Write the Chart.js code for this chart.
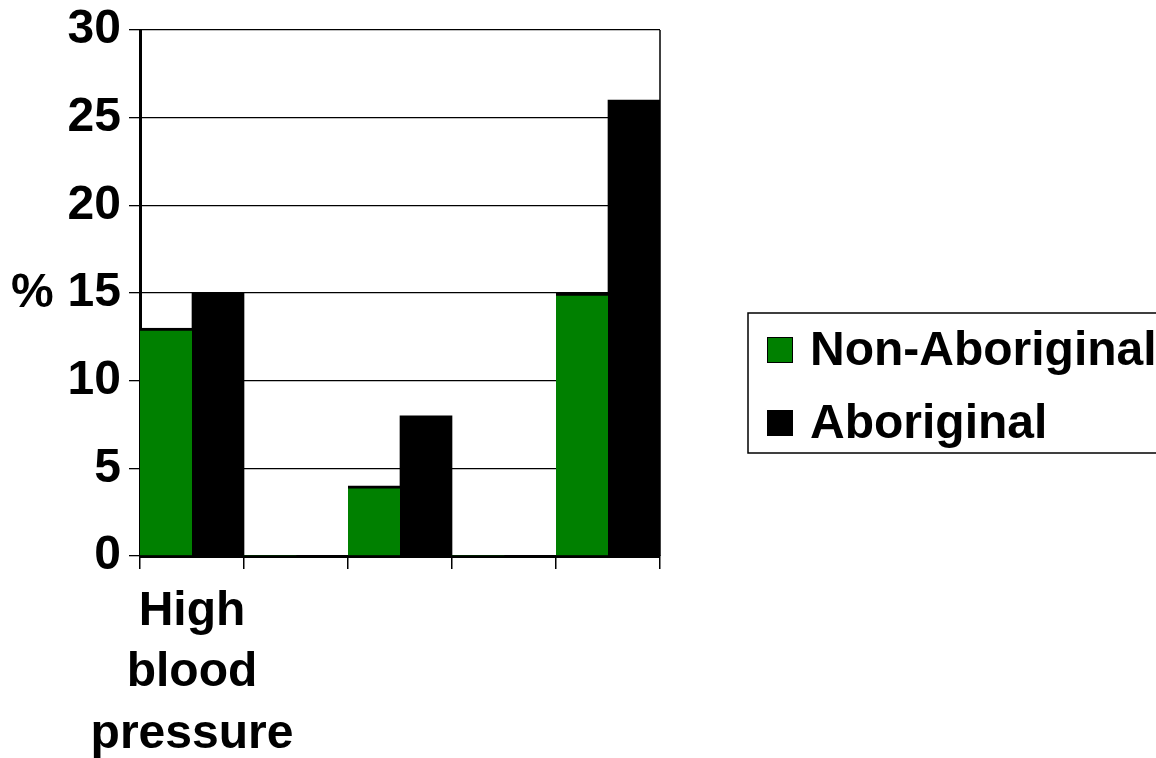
<!DOCTYPE html>
<html>
<head>
<meta charset="utf-8">
<script src="https://cdn.jsdelivr.net/npm/chart.js@4/dist/chart.umd.min.js"></script>
<style>
  html, body { margin: 0; padding: 0; background: #ffffff; }
  #wrap { width: 1156px; height: 758px; }
</style>
</head>
<body>
<div id="wrap"><canvas id="chart" width="1156" height="758"></canvas></div>
<script>
// Health conditions (per cent), by population group
const categories = [["High", "blood", "pressure"], "", "", "", ""];
const nonAboriginal = [13, 0, 4, 0, 15];
const aboriginal = [15, 0, 8, 0, 26];
const seriesNames = ["Non-Aboriginal", "Aboriginal"];
const seriesColors = ["#008000", "#000000"];
const yTicks = [0, 5, 10, 15, 20, 25, 30];
const yTitle = "%";

const FONT = "'Liberation Sans', Arial, Helvetica, sans-serif";

// Right-hand wall of the plot frame
const framePlugin = {
  id: "frame",
  beforeDatasetsDraw(chart) {
    const { ctx, chartArea } = chart;
    ctx.save();
    ctx.strokeStyle = "#000";
    ctx.lineWidth = 1.5;
    ctx.beginPath();
    ctx.moveTo(chartArea.right, chartArea.top);
    ctx.lineTo(chartArea.right, chartArea.bottom);
    ctx.stroke();
    ctx.restore();
  }
};

// Horizontal "%" title beside the value axis
const yTitlePlugin = {
  id: "yTitle",
  afterDraw(chart) {
    const { ctx, chartArea } = chart;
    ctx.save();
    ctx.font = "bold 48px " + FONT;
    ctx.fillStyle = "#000";
    ctx.textAlign = "left";
    ctx.textBaseline = "middle";
    ctx.fillText(yTitle, 11, (chartArea.top + chartArea.bottom) / 2 + 1);
    ctx.restore();
  }
};

// Boxed legend to the right of the plot
const boxLegendPlugin = {
  id: "boxLegend",
  afterDraw(chart) {
    const { ctx, chartArea } = chart;
    const x0 = chartArea.right + 88;
    const y0 = 313;
    ctx.save();
    ctx.strokeStyle = "#000";
    ctx.lineWidth = 1.5;
    ctx.strokeRect(x0, y0, 460, 140);
    ctx.font = "bold 48px " + FONT;
    ctx.textBaseline = "middle";
    ctx.textAlign = "left";
    chart.data.datasets.forEach((ds, i) => {
      const cy = y0 + 37 + i * 73;
      ctx.fillStyle = ds.backgroundColor;
      ctx.fillRect(x0 + 19, cy - 13, 26, 26);
      ctx.lineWidth = 1;
      ctx.strokeStyle = "#000";
      ctx.strokeRect(x0 + 19.5, cy - 12.5, 25, 25);
      ctx.fillStyle = "#000";
      ctx.fillText(ds.label, x0 + 62, cy + 2);
    });
    ctx.restore();
  }
};

new Chart(document.getElementById("chart"), {
  type: "bar",
  data: {
    labels: categories,
    datasets: [
      {
        label: seriesNames[0],
        data: nonAboriginal,
        backgroundColor: seriesColors[0],
        borderColor: "#000",
        borderWidth: { top: 3, left: 0, right: 0, bottom: 0 },
        borderSkipped: "bottom"
      },
      {
        label: seriesNames[1],
        data: aboriginal,
        backgroundColor: seriesColors[1],
        borderWidth: 0
      }
    ]
  },
  options: {
    responsive: false,
    animation: false,
    devicePixelRatio: 1,
    layout: { padding: { left: 0, right: 496, top: 30, bottom: 0 } },
    plugins: {
      legend: { display: false },
      tooltip: { enabled: false }
    },
    datasets: {
      bar: { categoryPercentage: 1.0, barPercentage: 1.0 }
    },
    scales: {
      x: {
        offset: true,
        grid: {
          offset: true,
          drawOnChartArea: false,
          drawTicks: true,
          tickLength: 13,
          color: "#000",
          lineWidth: 1.5
        },
        border: { display: true, color: "#000", width: 3 },
        ticks: {
          color: "#000",
          font: { family: FONT, size: 48, weight: "bold", lineHeight: 1.28 },
          padding: 12,
          maxRotation: 0,
          autoSkip: false
        },
        afterFit(scale) { scale.height = 202; }
      },
      y: {
        min: 0,
        max: 30,
        afterBuildTicks(scale) { scale.ticks = yTicks.map(v => ({ value: v })); },
        grid: {
          color: "#000",
          lineWidth: 1.3,
          tickLength: 11,
          drawTicks: true
        },
        border: { display: true, color: "#000", width: 3 },
        ticks: {
          color: "#000",
          font: { family: FONT, size: 48, weight: "bold" },
          padding: 8
        },
        afterFit(scale) {
          scale.width = 140;
          scale.paddingTop = 0;
          scale.paddingBottom = 0;
        }
      }
    }
  },
  plugins: [framePlugin, yTitlePlugin, boxLegendPlugin]
});
</script>
</body>
</html>
